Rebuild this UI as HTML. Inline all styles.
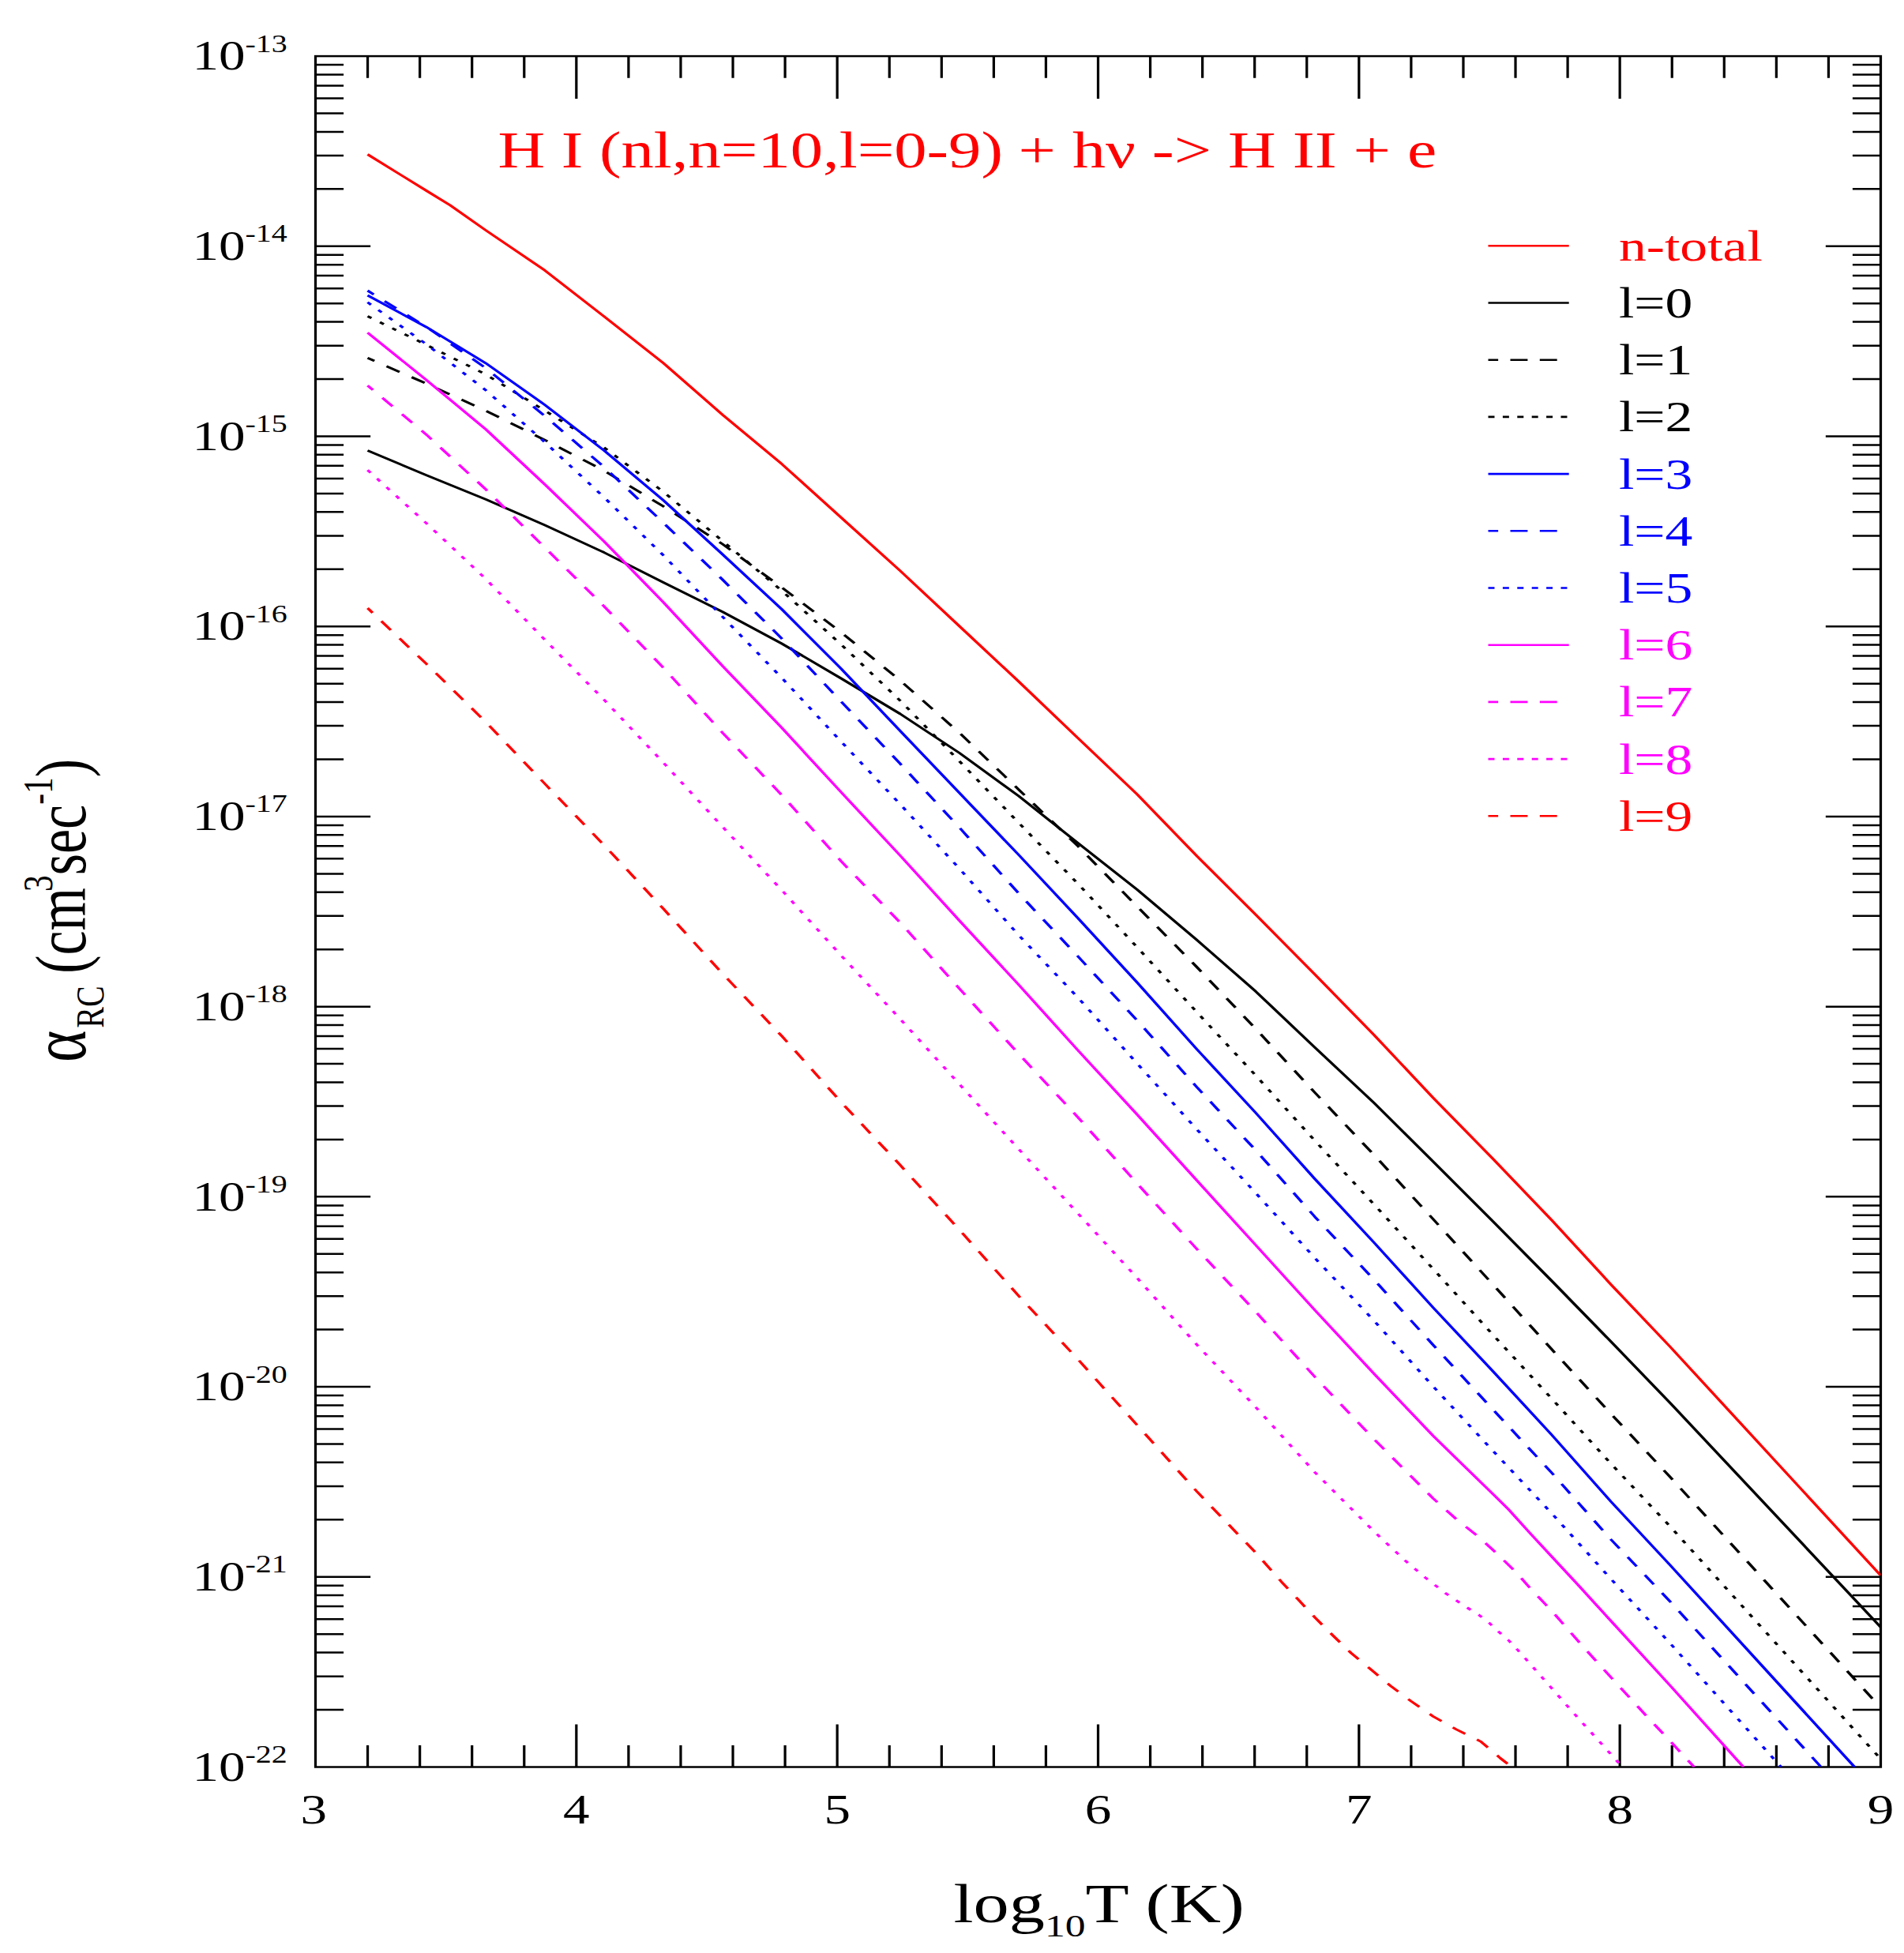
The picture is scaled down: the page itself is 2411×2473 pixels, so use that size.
<!DOCTYPE html>
<html lang="en"><head><meta charset="utf-8"><title>H I recombination rate coefficients</title>
<style>html,body{margin:0;padding:0;background:#fff}svg{display:block}text{font-family:"Liberation Serif","DejaVu Serif",serif}</style>
</head><body>
<svg width="2411" height="2473" viewBox="0 0 2411 2473">
<rect width="2411" height="2473" fill="#fff"/>
<g transform="scale(1.29,1)">
<rect x="309.69" y="71.10" width="1536.43" height="2166.40" fill="none" stroke="#000" stroke-width="2.5"/>
<path d="M360.90 2237.50v-27.60M360.90 71.10v27.60M412.12 2237.50v-27.60M412.12 71.10v27.60M463.33 2237.50v-27.60M463.33 71.10v27.60M514.55 2237.50v-27.60M514.55 71.10v27.60M565.76 2237.50v-54.00M565.76 71.10v54.00M616.98 2237.50v-27.60M616.98 71.10v27.60M668.19 2237.50v-27.60M668.19 71.10v27.60M719.41 2237.50v-27.60M719.41 71.10v27.60M770.62 2237.50v-27.60M770.62 71.10v27.60M821.83 2237.50v-54.00M821.83 71.10v54.00M873.05 2237.50v-27.60M873.05 71.10v27.60M924.26 2237.50v-27.60M924.26 71.10v27.60M975.48 2237.50v-27.60M975.48 71.10v27.60M1026.69 2237.50v-27.60M1026.69 71.10v27.60M1077.91 2237.50v-54.00M1077.91 71.10v54.00M1129.12 2237.50v-27.60M1129.12 71.10v27.60M1180.34 2237.50v-27.60M1180.34 71.10v27.60M1231.55 2237.50v-27.60M1231.55 71.10v27.60M1282.76 2237.50v-27.60M1282.76 71.10v27.60M1333.98 2237.50v-54.00M1333.98 71.10v54.00M1385.19 2237.50v-27.60M1385.19 71.10v27.60M1436.41 2237.50v-27.60M1436.41 71.10v27.60M1487.62 2237.50v-27.60M1487.62 71.10v27.60M1538.84 2237.50v-27.60M1538.84 71.10v27.60M1590.05 2237.50v-54.00M1590.05 71.10v54.00M1641.27 2237.50v-27.60M1641.27 71.10v27.60M1692.48 2237.50v-27.60M1692.48 71.10v27.60M1743.70 2237.50v-27.60M1743.70 71.10v27.60M1794.91 2237.50v-27.60M1794.91 71.10v27.60M309.69 2165.04h27.60M1846.12 2165.04h-27.60M309.69 2122.65h27.60M1846.12 2122.65h-27.60M309.69 2092.58h27.60M1846.12 2092.58h-27.60M309.69 2069.25h27.60M1846.12 2069.25h-27.60M309.69 2050.19h27.60M1846.12 2050.19h-27.60M309.69 2034.08h27.60M1846.12 2034.08h-27.60M309.69 2020.12h27.60M1846.12 2020.12h-27.60M309.69 2007.80h27.60M1846.12 2007.80h-27.60M309.69 1996.79h54.00M1846.12 1996.79h-54.00M309.69 1924.33h27.60M1846.12 1924.33h-27.60M309.69 1881.94h27.60M1846.12 1881.94h-27.60M309.69 1851.87h27.60M1846.12 1851.87h-27.60M309.69 1828.54h27.60M1846.12 1828.54h-27.60M309.69 1809.48h27.60M1846.12 1809.48h-27.60M309.69 1793.36h27.60M1846.12 1793.36h-27.60M309.69 1779.41h27.60M1846.12 1779.41h-27.60M309.69 1767.09h27.60M1846.12 1767.09h-27.60M309.69 1756.08h54.00M1846.12 1756.08h-54.00M309.69 1683.62h27.60M1846.12 1683.62h-27.60M309.69 1641.23h27.60M1846.12 1641.23h-27.60M309.69 1611.16h27.60M1846.12 1611.16h-27.60M309.69 1587.83h27.60M1846.12 1587.83h-27.60M309.69 1568.77h27.60M1846.12 1568.77h-27.60M309.69 1552.65h27.60M1846.12 1552.65h-27.60M309.69 1538.69h27.60M1846.12 1538.69h-27.60M309.69 1526.38h27.60M1846.12 1526.38h-27.60M309.69 1515.37h54.00M1846.12 1515.37h-54.00M309.69 1442.91h27.60M1846.12 1442.91h-27.60M309.69 1400.52h27.60M1846.12 1400.52h-27.60M309.69 1370.44h27.60M1846.12 1370.44h-27.60M309.69 1347.12h27.60M1846.12 1347.12h-27.60M309.69 1328.06h27.60M1846.12 1328.06h-27.60M309.69 1311.94h27.60M1846.12 1311.94h-27.60M309.69 1297.98h27.60M1846.12 1297.98h-27.60M309.69 1285.67h27.60M1846.12 1285.67h-27.60M309.69 1274.66h54.00M1846.12 1274.66h-54.00M309.69 1202.19h27.60M1846.12 1202.19h-27.60M309.69 1159.81h27.60M1846.12 1159.81h-27.60M309.69 1129.73h27.60M1846.12 1129.73h-27.60M309.69 1106.41h27.60M1846.12 1106.41h-27.60M309.69 1087.35h27.60M1846.12 1087.35h-27.60M309.69 1071.23h27.60M1846.12 1071.23h-27.60M309.69 1057.27h27.60M1846.12 1057.27h-27.60M309.69 1044.96h27.60M1846.12 1044.96h-27.60M309.69 1033.94h54.00M1846.12 1033.94h-54.00M309.69 961.48h27.60M1846.12 961.48h-27.60M309.69 919.10h27.60M1846.12 919.10h-27.60M309.69 889.02h27.60M1846.12 889.02h-27.60M309.69 865.69h27.60M1846.12 865.69h-27.60M309.69 846.63h27.60M1846.12 846.63h-27.60M309.69 830.52h27.60M1846.12 830.52h-27.60M309.69 816.56h27.60M1846.12 816.56h-27.60M309.69 804.25h27.60M1846.12 804.25h-27.60M309.69 793.23h54.00M1846.12 793.23h-54.00M309.69 720.77h27.60M1846.12 720.77h-27.60M309.69 678.38h27.60M1846.12 678.38h-27.60M309.69 648.31h27.60M1846.12 648.31h-27.60M309.69 624.98h27.60M1846.12 624.98h-27.60M309.69 605.92h27.60M1846.12 605.92h-27.60M309.69 589.81h27.60M1846.12 589.81h-27.60M309.69 575.85h27.60M1846.12 575.85h-27.60M309.69 563.54h27.60M1846.12 563.54h-27.60M309.69 552.52h54.00M1846.12 552.52h-54.00M309.69 480.06h27.60M1846.12 480.06h-27.60M309.69 437.67h27.60M1846.12 437.67h-27.60M309.69 407.60h27.60M1846.12 407.60h-27.60M309.69 384.27h27.60M1846.12 384.27h-27.60M309.69 365.21h27.60M1846.12 365.21h-27.60M309.69 349.10h27.60M1846.12 349.10h-27.60M309.69 335.14h27.60M1846.12 335.14h-27.60M309.69 322.83h27.60M1846.12 322.83h-27.60M309.69 311.81h54.00M1846.12 311.81h-54.00M309.69 239.35h27.60M1846.12 239.35h-27.60M309.69 196.96h27.60M1846.12 196.96h-27.60M309.69 166.89h27.60M1846.12 166.89h-27.60M309.69 143.56h27.60M1846.12 143.56h-27.60M309.69 124.50h27.60M1846.12 124.50h-27.60M309.69 108.39h27.60M1846.12 108.39h-27.60M309.69 94.43h27.60M1846.12 94.43h-27.60M309.69 82.11h27.60M1846.12 82.11h-27.60" fill="none" stroke="#000" stroke-width="2.5"/>
<clipPath id="c"><rect x="309.69" y="71.10" width="1536.43" height="2166.40"/></clipPath>
<g clip-path="url(#c)" fill="none" stroke-linejoin="round">
<path d="M360.85 195.50L418.60 241.50L441.86 259.90L476.74 291.50L534.88 342.40L593.02 400.80L651.16 459.80L709.30 525.20L767.44 587.60L825.58 655.20L883.72 722.90L941.86 793.00L1000.00 863.00L1058.14 934.60L1116.28 1005.90L1174.42 1083.30L1232.56 1158.20L1290.70 1233.80L1348.84 1310.70L1406.98 1390.30L1465.12 1466.80L1523.26 1545.20L1581.40 1626.60L1639.53 1705.50L1846.12 1994.90" stroke="#ff0000" stroke-width="2.9"/>
<path d="M360.85 570.50L418.60 601.70L476.74 632.20L534.88 665.10L593.02 699.60L651.16 737.50L709.30 774.70L767.44 815.00L825.58 859.00L883.72 904.00L941.86 953.50L1000.00 1008.00L1058.14 1067.40L1116.28 1126.40L1174.42 1189.80L1232.56 1255.30L1290.70 1326.30L1348.84 1396.70L1406.98 1471.20L1465.12 1546.10L1523.26 1622.00L1581.40 1698.90L1639.53 1776.60L1846.12 2060.40" stroke="#000000" stroke-width="2.9"/>
<path d="M360.85 453.30L418.60 485.80L476.74 520.00L534.88 557.20L593.02 596.00L651.16 641.20L709.30 689.00L767.44 743.90L825.58 800.60L883.72 861.80L941.86 928.00L1000.00 999.80L1058.14 1071.40L1116.28 1147.90L1174.42 1224.00L1232.56 1302.70L1290.70 1383.50L1348.84 1462.50L1406.98 1544.00L1465.12 1626.00L1523.26 1708.70L1581.40 1790.30L1639.53 1870.40L1846.12 2162.40" stroke="#000000" stroke-width="2.9" stroke-dasharray="14.7 13.6" stroke-dashoffset="7"/>
<path d="M360.85 400.40L418.60 436.70L476.74 474.00L534.88 520.00L593.02 566.80L651.16 622.70L709.30 685.00L767.44 748.00L825.58 816.00L883.72 887.30L941.86 964.00L1000.00 1041.90L1058.14 1119.00L1116.28 1199.50L1174.42 1281.00L1232.56 1361.70L1290.70 1444.40L1348.84 1525.20L1406.98 1607.00L1465.12 1689.70L1523.26 1771.10L1581.40 1853.50L1639.53 1933.00L1846.12 2227.30" stroke="#000000" stroke-width="2.9" stroke-dasharray="4.5 9.8"/>
<path d="M360.85 374.00L418.60 414.20L476.74 459.80L534.88 512.70L593.02 570.50L651.16 633.50L709.30 702.00L767.44 771.50L825.58 846.70L883.72 925.70L941.86 1004.20L1000.00 1082.50L1058.14 1162.70L1116.28 1244.10L1174.42 1328.00L1232.56 1409.00L1290.70 1492.80L1348.84 1573.50L1406.98 1656.00L1465.12 1735.80L1523.26 1817.00L1581.40 1901.50L1639.53 1982.00L1820.62 2237.70" stroke="#0000ff" stroke-width="2.9"/>
<path d="M360.85 368.00L418.60 414.00L476.74 466.00L534.88 526.80L593.02 591.40L651.16 662.00L709.30 734.00L767.44 808.60L825.58 888.20L883.72 967.20L941.86 1048.00L1000.00 1131.30L1058.14 1211.00L1116.28 1292.20L1174.42 1376.00L1232.56 1456.40L1290.70 1540.80L1348.84 1620.50L1406.98 1703.30L1465.12 1784.30L1523.26 1865.00L1581.40 1949.50L1639.53 2028.10L1787.75 2237.70" stroke="#0000ff" stroke-width="2.9" stroke-dasharray="14.7 13.6" stroke-dashoffset="7"/>
<path d="M360.85 382.80L418.60 436.00L476.74 494.00L534.88 560.00L593.02 629.80L651.16 703.20L709.30 781.00L767.44 858.40L825.58 938.90L883.72 1018.50L941.86 1100.00L1000.00 1184.20L1058.14 1263.20L1116.28 1346.70L1174.42 1429.50L1232.56 1510.50L1290.70 1593.00L1348.84 1672.50L1406.98 1755.80L1465.12 1836.60L1523.26 1916.40L1581.40 1999.50L1639.53 2081.00L1748.45 2237.70" stroke="#0000ff" stroke-width="2.9" stroke-dasharray="4.5 9.8"/>
<path d="M360.85 421.30L418.60 481.20L476.74 543.50L534.88 613.50L593.02 685.70L651.16 762.60L709.30 843.30L767.44 921.70L825.58 1003.00L883.72 1083.50L941.86 1165.90L1000.00 1247.00L1058.14 1330.00L1116.28 1411.40L1174.42 1494.20L1232.56 1576.50L1290.70 1659.00L1348.84 1739.60L1406.98 1818.40L1435.58 1854.40L1465.12 1891.30L1480.85 1911.30L1502.33 1942.00L1523.26 1971.20L1549.92 2008.10L1581.40 2052.70L1639.53 2134.50L1711.47 2237.70" stroke="#ff00ff" stroke-width="2.9"/>
<path d="M360.85 488.20L418.60 550.40L476.74 619.50L534.88 693.40L593.02 767.80L651.16 845.50L709.30 928.00L767.44 1006.80L825.58 1090.40L883.72 1168.30L941.86 1252.00L1000.00 1334.50L1058.14 1414.80L1116.28 1498.70L1174.42 1581.00L1232.56 1660.90L1290.70 1743.50L1348.84 1822.50L1406.98 1897.60L1430.78 1925.10L1451.09 1945.70L1470.16 1968.10L1487.98 1990.60L1504.19 2014.20L1523.26 2039.80L1552.79 2083.40L1581.40 2124.00L1618.60 2176.20L1639.53 2204.80L1663.10 2237.70" stroke="#ff00ff" stroke-width="2.9" stroke-dasharray="14.7 13.6" stroke-dashoffset="7"/>
<path d="M360.85 595.20L418.60 662.60L476.74 733.00L534.88 810.20L593.02 886.20L651.16 965.70L709.30 1047.00L767.44 1127.20L825.58 1209.80L883.72 1290.40L941.86 1373.00L1000.00 1455.10L1058.14 1536.50L1116.28 1618.30L1174.42 1702.20L1232.56 1781.70L1290.70 1864.30L1348.84 1939.30L1361.47 1954.60L1379.92 1976.70L1399.22 1997.80L1419.15 2017.60L1440.54 2036.00L1451.47 2044.70L1461.86 2055.10L1471.16 2066.20L1480.39 2076.50L1488.53 2087.50L1496.82 2099.30L1505.04 2111.40L1521.32 2135.00L1537.52 2158.70L1553.49 2181.80L1570.23 2205.50L1586.90 2229.40L1592.25 2237.50" stroke="#ff00ff" stroke-width="2.9" stroke-dasharray="4.5 9.8"/>
<path d="M360.85 770.00L418.60 840.70L476.74 914.10L534.88 992.50L593.02 1070.20L651.16 1150.70L709.30 1233.00L767.44 1311.90L825.58 1395.50L883.72 1475.40L941.86 1557.40L1000.00 1641.00L1058.14 1721.30L1116.28 1804.60L1174.42 1888.00L1232.56 1966.10L1241.71 1979.40L1258.14 2003.30L1274.50 2025.70L1291.32 2048.90L1308.45 2071.00L1326.12 2093.00L1345.74 2114.00L1364.96 2134.70L1384.96 2154.00L1406.74 2173.30L1429.53 2189.90L1453.33 2205.10L1463.72 2216.20L1472.56 2226.10L1483.26 2236.80" stroke="#ff0000" stroke-width="2.9" stroke-dasharray="14.7 13.6" stroke-dashoffset="7"/>
</g>
<path d="M1460.85 311.30H1540.08" stroke="#ff0000" stroke-width="2.6" fill="none"/>
<text x="1589.15" y="329.80" font-size="54" fill="#ff0000">n-total</text>
<path d="M1460.85 383.50H1540.08" stroke="#000000" stroke-width="2.6" fill="none"/>
<text x="1589.15" y="402.00" font-size="54" fill="#000000">l=0</text>
<path d="M1460.85 455.70H1540.08" stroke="#000000" stroke-width="2.6" fill="none" stroke-dasharray="17 11.9" stroke-dashoffset="7.2"/>
<text x="1589.15" y="474.20" font-size="54" fill="#000000">l=1</text>
<path d="M1460.85 527.90H1540.08" stroke="#000000" stroke-width="2.6" fill="none" stroke-dasharray="6.2 8.06"/>
<text x="1589.15" y="546.40" font-size="54" fill="#000000">l=2</text>
<path d="M1460.85 600.10H1540.08" stroke="#0000ff" stroke-width="2.6" fill="none"/>
<text x="1589.15" y="618.60" font-size="54" fill="#0000ff">l=3</text>
<path d="M1460.85 672.30H1540.08" stroke="#0000ff" stroke-width="2.6" fill="none" stroke-dasharray="17 11.9" stroke-dashoffset="7.2"/>
<text x="1589.15" y="690.80" font-size="54" fill="#0000ff">l=4</text>
<path d="M1460.85 744.50H1540.08" stroke="#0000ff" stroke-width="2.6" fill="none" stroke-dasharray="6.2 8.06"/>
<text x="1589.15" y="763.00" font-size="54" fill="#0000ff">l=5</text>
<path d="M1460.85 816.70H1540.08" stroke="#ff00ff" stroke-width="2.6" fill="none"/>
<text x="1589.15" y="835.20" font-size="54" fill="#ff00ff">l=6</text>
<path d="M1460.85 888.90H1540.08" stroke="#ff00ff" stroke-width="2.6" fill="none" stroke-dasharray="17 11.9" stroke-dashoffset="7.2"/>
<text x="1589.15" y="907.40" font-size="54" fill="#ff00ff">l=7</text>
<path d="M1460.85 961.10H1540.08" stroke="#ff00ff" stroke-width="2.6" fill="none" stroke-dasharray="6.2 8.06"/>
<text x="1589.15" y="979.60" font-size="54" fill="#ff00ff">l=8</text>
<path d="M1460.85 1033.30H1540.08" stroke="#ff0000" stroke-width="2.6" fill="none" stroke-dasharray="17 11.9" stroke-dashoffset="7.2"/>
<text x="1589.15" y="1051.80" font-size="54" fill="#ff0000">l=9</text>
<text y="212.4" font-size="66" fill="#ff0000"><tspan x="488.76" textLength="495.7" lengthAdjust="spacingAndGlyphs">H I (nl,n=10,l=0-9)</tspan><tspan x="999.69" textLength="410.5" lengthAdjust="spacingAndGlyphs">+ h&#957; -&gt; H II + e</tspan></text>
<text x="188.76" y="2254.70" font-size="52">10<tspan font-size="31" dy="-22.7">-22</tspan></text>
<text x="188.76" y="2013.99" font-size="52">10<tspan font-size="31" dy="-22.7">-21</tspan></text>
<text x="188.76" y="1773.28" font-size="52">10<tspan font-size="31" dy="-22.7">-20</tspan></text>
<text x="188.76" y="1532.57" font-size="52">10<tspan font-size="31" dy="-22.7">-19</tspan></text>
<text x="188.76" y="1291.86" font-size="52">10<tspan font-size="31" dy="-22.7">-18</tspan></text>
<text x="188.76" y="1051.14" font-size="52">10<tspan font-size="31" dy="-22.7">-17</tspan></text>
<text x="188.76" y="810.43" font-size="52">10<tspan font-size="31" dy="-22.7">-16</tspan></text>
<text x="188.76" y="569.72" font-size="52">10<tspan font-size="31" dy="-22.7">-15</tspan></text>
<text x="188.76" y="329.01" font-size="52">10<tspan font-size="31" dy="-22.7">-14</tspan></text>
<text x="188.76" y="88.30" font-size="52">10<tspan font-size="31" dy="-22.7">-13</tspan></text>
<text x="307.98" y="2309.3" font-size="52" text-anchor="middle">3</text>
<text x="565.76" y="2309.3" font-size="52" text-anchor="middle">4</text>
<text x="821.83" y="2309.3" font-size="52" text-anchor="middle">5</text>
<text x="1077.91" y="2309.3" font-size="52" text-anchor="middle">6</text>
<text x="1333.98" y="2309.3" font-size="52" text-anchor="middle">7</text>
<text x="1590.05" y="2309.3" font-size="52" text-anchor="middle">8</text>
<text x="1846.12" y="2309.3" font-size="52" text-anchor="middle">9</text>
<text x="936.05" y="2434.5" font-size="70">log<tspan font-size="40" dy="17.8">10</tspan><tspan dy="-17.8">T (K)</tspan></text>
<text transform="translate(84.03,1345) rotate(-90)" font-size="70"><tspan font-size="77">&#945;</tspan><tspan font-size="40" dy="17.5" dx="3">RC</tspan><tspan dy="-17.5" dx="-2"> (cm</tspan><tspan font-size="41.5" dy="-33.2" dx="-5">3</tspan><tspan dy="33.2">sec</tspan><tspan font-size="41.5" dy="-33.2">-1</tspan><tspan dy="33.2">)</tspan></text>
</g></svg>
</body></html>
